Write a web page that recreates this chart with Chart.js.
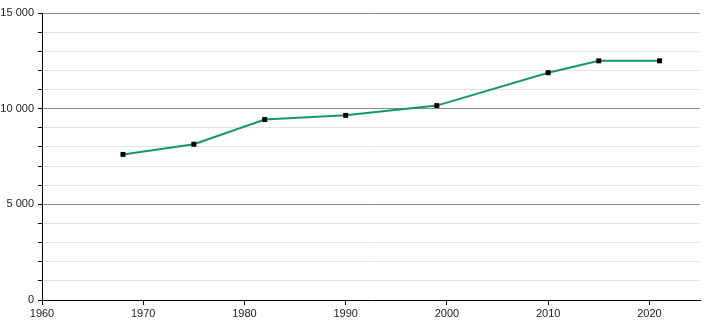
<!DOCTYPE html>
<html lang="fr">
<head>
    <meta charset="UTF-8">
    <title>Population</title>
    <script src="https://cdn.jsdelivr.net/npm/chart.js"></script>
    <style>
        html, body { margin: 0; padding: 0; background: #fff; }
        .chart-box { width: 710px; height: 320px; }
    </style>
</head>
<body>
    <div class="chart-box"><canvas id="popChart"></canvas></div>

    <script>
        // values
        const years = [1968, 1975, 1982, 1990, 1999, 2010, 2015, 2021];
        const population = [7610, 8140, 9430, 9650, 10160, 11880, 12500, 12500];
        const yLabelValues = [0, 5000, 10000, 15000];

        const fmt = v => String(v).replace(/\B(?=(\d{3})+(?!\d))/g, ' ');

        Chart.defaults.font.family = '"Liberation Sans", Arial, sans-serif';
        Chart.defaults.font.size = 11;
        Chart.defaults.color = '#222';

        new Chart(document.getElementById('popChart'), {
            type: 'scatter',
            data: {
                datasets: [{
                    data: years.map((y, i) => ({ x: y, y: population[i] })),
                    showLine: true,
                    borderColor: '#179571',
                    borderWidth: 2,
                    pointStyle: 'rect',
                    pointRadius: 3.5,
                    pointHoverRadius: 3.5,
                    pointBackgroundColor: '#000',
                    pointBorderWidth: 0
                }]
            },
            options: {
                responsive: true,
                maintainAspectRatio: false,
                animation: false,
                layout: { padding: { top: 13, right: 10, left: 0, bottom: 0 } },
                plugins: { legend: { display: false }, tooltip: { enabled: false } },
                scales: {
                    x: {
                        type: 'linear',
                        min: 1960,
                        max: 2025,
                        afterBuildTicks: s => { s.ticks = s.ticks.filter(t => t.value % 10 === 0); },
                        afterFit: s => { s.height = 20; },
                        ticks: { stepSize: 10, padding: 2, maxRotation: 0, callback: v => String(v) },
                        grid: { drawOnChartArea: false, drawTicks: true, tickLength: 5, tickColor: '#000' },
                        border: { color: '#000', width: 1 }
                    },
                    y: {
                        min: 0,
                        max: 15000,
                        afterFit: s => { s.width = 42; },
                        ticks: {
                            stepSize: 1000,
                            padding: 4,
                            callback: v => yLabelValues.includes(v) ? fmt(v) : ''
                        },
                        grid: {
                            color: ctx => (ctx.tick && ctx.tick.value % 5000 === 0) ? '#8a8a8a' : '#e2e2e2',
                            lineWidth: 1,
                            tickLength: 4,
                            tickColor: '#000'
                        },
                        border: { color: '#000', width: 1 }
                    }
                }
            }
        });
    </script>
</body>
</html>
